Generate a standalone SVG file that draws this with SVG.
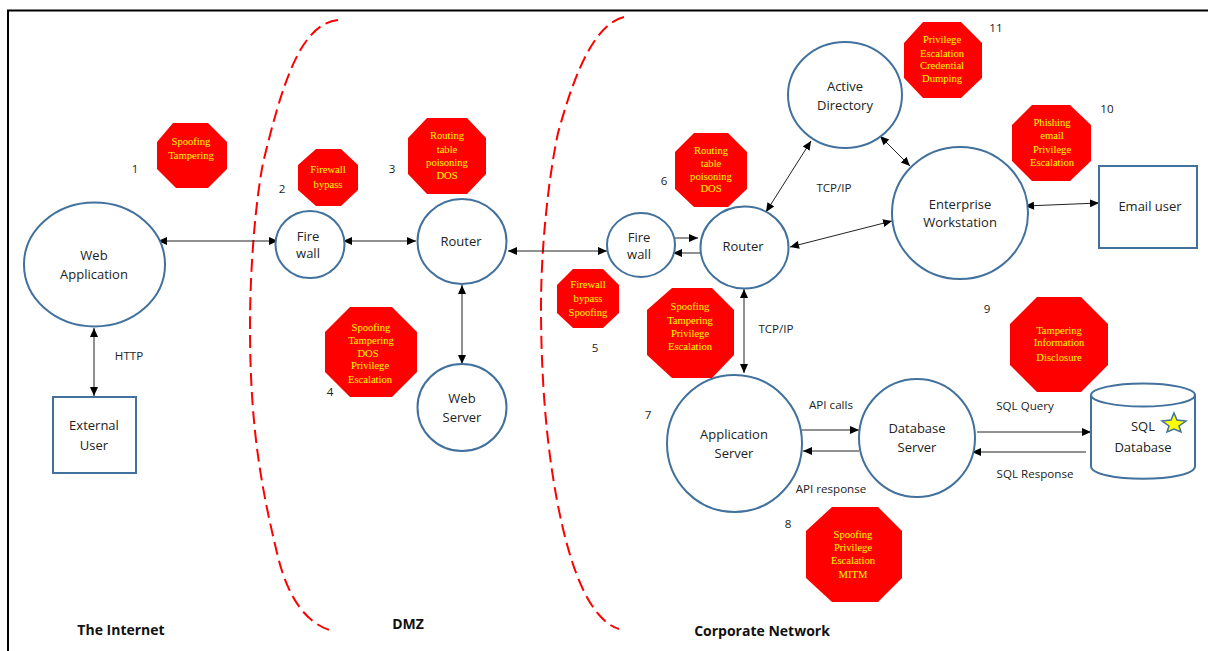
<svg xmlns="http://www.w3.org/2000/svg" width="1208" height="651" viewBox="0 0 1208 651">
<style>
.n{fill:#fff;stroke:#41719c;stroke-width:2}
.o{fill:#f00}
.t{font-family:"Open Sans","Noto Sans","Liberation Sans",sans-serif;font-size:13px;fill:#222;text-anchor:middle}
.s{font-family:"Open Sans","Noto Sans","Liberation Sans",sans-serif;font-size:11.6px;fill:#222;text-anchor:middle}
.y{font-family:"Liberation Serif",serif;font-size:10.6px;fill:#ff0;text-anchor:middle}
.b{font-family:"Open Sans","Noto Sans","Liberation Sans",sans-serif;font-size:14px;font-weight:700;fill:#111;text-anchor:middle}
.c{fill:none;stroke:#222;stroke-width:1;marker-start:url(#a);marker-end:url(#e)}
.d{fill:none;stroke:#222;stroke-width:1;marker-end:url(#e)}
.z{fill:none;stroke:#f00;stroke-width:2;stroke-dasharray:13 6}
</style>
<defs>
<marker id="e" markerUnits="userSpaceOnUse" markerWidth="10" markerHeight="10" refX="9" refY="4" orient="auto"><path d="M0 0L9 4L0 8Z" fill="#000"/></marker>
<marker id="a" markerUnits="userSpaceOnUse" markerWidth="10" markerHeight="10" refX="0" refY="4" orient="auto"><path d="M9 0L0 4L9 8Z" fill="#000"/></marker>
</defs>
<rect width="1208" height="651" fill="#fff"/>
<path d="M8 651V10.500H1208" fill="none" stroke="#000" stroke-width="2"/>
<g id="boundaries">
<path class="z" d="M338 20C300 24 282 85 263 163C255 205 250 270 250 327C250 430 262 490 277 553C288 600 308 625 333 631"/>
<path class="z" d="M624 17C590 25 570 90 558 133C548 180 541 250 541 306C541 400 550 470 561 520C572 570 590 620 619 629"/>
</g>
<g id="connectors">
<path class="c" d="M158 241H278"/>
<path class="c" d="M343 241H416"/>
<path class="c" d="M508 251H607"/>
<path class="c" d="M94 328V396"/>
<path class="c" d="M462 285V364"/>
<path class="d" d="M675 238H698"/>
<path class="d" d="M701 253H673"/>
<path class="c" d="M766 212L811 141"/>
<path class="c" d="M790 247L892 221"/>
<path class="c" d="M880 136L910 166"/>
<path class="c" d="M1025 206L1099 203"/>
<path class="c" d="M744 289V373"/>
<path class="d" d="M802 430H859"/>
<path class="d" d="M859 451H803"/>
<path class="d" d="M977 432H1091"/>
<path class="d" d="M1086 452H972"/>
</g>
<g id="web-application"><ellipse class="n" cx="94.500" cy="264.500" rx="70.500" ry="62"/><text class="t" x="94" y="260">Web</text><text class="t" x="94" y="279">Application</text></g>
<g id="external-user"><rect class="n" x="53" y="397" width="83" height="76"/><text class="t" x="94" y="430">External</text><text class="t" x="94" y="450">User</text></g>
<g id="firewall-dmz"><ellipse class="n" cx="310" cy="244.500" rx="34.500" ry="33.500"/><text class="t" x="308" y="241">Fire</text><text class="t" x="308" y="258">wall</text></g>
<g id="router-dmz"><ellipse class="n" cx="462" cy="241.500" rx="44.500" ry="42.500"/><text class="t" x="461" y="246">Router</text></g>
<g id="web-server"><ellipse class="n" cx="462" cy="407.500" rx="44.500" ry="43.500"/><text class="t" x="462" y="403">Web</text><text class="t" x="462" y="422">Server</text></g>
<g id="firewall-corp"><ellipse class="n" cx="641" cy="245" rx="34" ry="32"/><text class="t" x="639" y="242">Fire</text><text class="t" x="639" y="259">wall</text></g>
<g id="router-corp"><ellipse class="n" cx="744.500" cy="247.500" rx="44" ry="41"/><text class="t" x="743" y="251">Router</text></g>
<g id="active-directory"><ellipse class="n" cx="845" cy="95" rx="57" ry="53"/><text class="t" x="845" y="91">Active</text><text class="t" x="845" y="110">Directory</text></g>
<g id="enterprise-workstation"><ellipse class="n" cx="960" cy="213" rx="68" ry="66"/><text class="t" x="960" y="209">Enterprise</text><text class="t" x="960" y="227">Workstation</text></g>
<g id="email-user"><rect class="n" x="1099" y="166" width="98" height="82"/><text class="t" x="1150" y="211">Email user</text></g>
<g id="application-server"><ellipse class="n" cx="734.500" cy="443.500" rx="67.500" ry="68.500"/><text class="t" x="734" y="439">Application</text><text class="t" x="734" y="458">Server</text></g>
<g id="database-server"><ellipse class="n" cx="917" cy="438" rx="58" ry="59"/><text class="t" x="917" y="433">Database</text><text class="t" x="917" y="452">Server</text></g>
<g id="sql-database"><path class="n" d="M1091 395V466C1091 483 1195 483 1195 466V395"/><ellipse class="n" cx="1143" cy="395" rx="52" ry="11.500"/><text class="t" x="1143" y="431">SQL</text><text class="t" x="1143" y="452">Database</text><polygon points="1174,413 1177,420 1186,421 1179,426 1181,432 1174,429 1167,432 1169,426 1162,421 1171,420" fill="#ff0" stroke="#41719c" stroke-width="1.500"/></g>
<g id="threat-1"><polygon class="o" points="173,123 208,123 227,142 227,169 208,188 176,188 157,169 157,142"/><text class="y" x="191" y="145">Spoofing</text><text class="y" x="191" y="159">Tampering</text></g>
<g id="threat-2"><polygon class="o" points="316,149 341,149 358,165 358,190 341,206 316,206 298,190 298,165"/><text class="y" x="328" y="173">Firewall</text><text class="y" x="328" y="188">bypass</text></g>
<g id="threat-3"><polygon class="o" points="427,118 467,118 486,138 486,174 467,194 427,194 408,174 408,138"/><text class="y" x="447" y="139">Routing</text><text class="y" x="447" y="153">table</text><text class="y" x="447" y="166">poisoning</text><text class="y" x="447" y="179">DOS</text></g>
<g id="threat-4"><polygon class="o" points="350,307 392,307 417,332 417,372 392,397 350,397 325,372 325,332"/><text class="y" x="371" y="331">Spoofing</text><text class="y" x="371" y="344">Tampering</text><text class="y" x="368" y="357">DOS</text><text class="y" x="370" y="369">Privilege</text><text class="y" x="370" y="383">Escalation</text></g>
<g id="threat-5"><polygon class="o" points="573,269 603,269 619,285 619,313 603,328 573,328 557,313 557,285"/><text class="y" x="588" y="288">Firewall</text><text class="y" x="588" y="302">bypass</text><text class="y" x="588" y="316">Spoofing</text></g>
<g id="threat-6"><polygon class="o" points="694,133 728,133 747,152 747,189 728,207 694,207 675,189 675,152"/><text class="y" x="711" y="154">Routing</text><text class="y" x="711" y="167">table</text><text class="y" x="711" y="180">poisoning</text><text class="y" x="711" y="192">DOS</text></g>
<g id="threat-7"><polygon class="o" points="672,288 712,288 734,310 734,355 712,378 672,378 647,355 647,310"/><text class="y" x="690" y="310">Spoofing</text><text class="y" x="690" y="324">Tampering</text><text class="y" x="690" y="337">Privilege</text><text class="y" x="690" y="350">Escalation</text></g>
<g id="threat-8"><polygon class="o" points="832,507 878,507 902,531 902,578 878,602 832,602 806,578 806,531"/><text class="y" x="853" y="538">Spoofing</text><text class="y" x="853" y="551">Privilege</text><text class="y" x="853" y="564">Escalation</text><text class="y" x="853" y="578">MITM</text></g>
<g id="threat-9"><polygon class="o" points="1037,297 1081,297 1108,324 1108,365 1081,392 1037,392 1010,365 1010,324"/><text class="y" x="1059" y="334">Tampering</text><text class="y" x="1059" y="346">Information</text><text class="y" x="1059" y="361">Disclosure</text></g>
<g id="threat-10"><polygon class="o" points="1032,105 1070,105 1091,125 1091,161 1070,181 1032,181 1012,161 1012,125"/><text class="y" x="1052" y="126">Phishing</text><text class="y" x="1052" y="139">email</text><text class="y" x="1052" y="153">Privilege</text><text class="y" x="1052" y="166">Escalation</text></g>
<g id="threat-11"><polygon class="o" points="923,22 961,22 982,43 982,78 961,98 923,98 904,78 904,43"/><text class="y" x="942" y="43">Privilege</text><text class="y" x="942" y="57">Escalation</text><text class="y" x="942" y="69">Credential</text><text class="y" x="942" y="82">Dumping</text></g>
<g id="labels">
<text class="s" x="135" y="173">1</text><text class="s" x="282" y="193">2</text><text class="s" x="392" y="173">3</text><text class="s" x="330" y="396">4</text><text class="s" x="595" y="352">5</text><text class="s" x="664" y="185">6</text><text class="s" x="648" y="419">7</text><text class="s" x="788" y="528">8</text><text class="s" x="987" y="313">9</text><text class="s" x="1107" y="113">10</text><text class="s" x="996" y="32">11</text>
<text class="s" x="129" y="360">HTTP</text><text class="s" x="776" y="333">TCP/IP</text><text class="s" x="834" y="192">TCP/IP</text><text class="s" x="831" y="409">API calls</text><text class="s" x="831" y="493">API response</text><text class="s" x="1025" y="410">SQL Query</text><text class="s" x="1035" y="478">SQL Response</text>
<text class="b" x="121" y="635">The Internet</text><text class="b" x="408" y="629">DMZ</text><text class="b" x="762" y="636">Corporate Network</text>
</g>
</svg>
